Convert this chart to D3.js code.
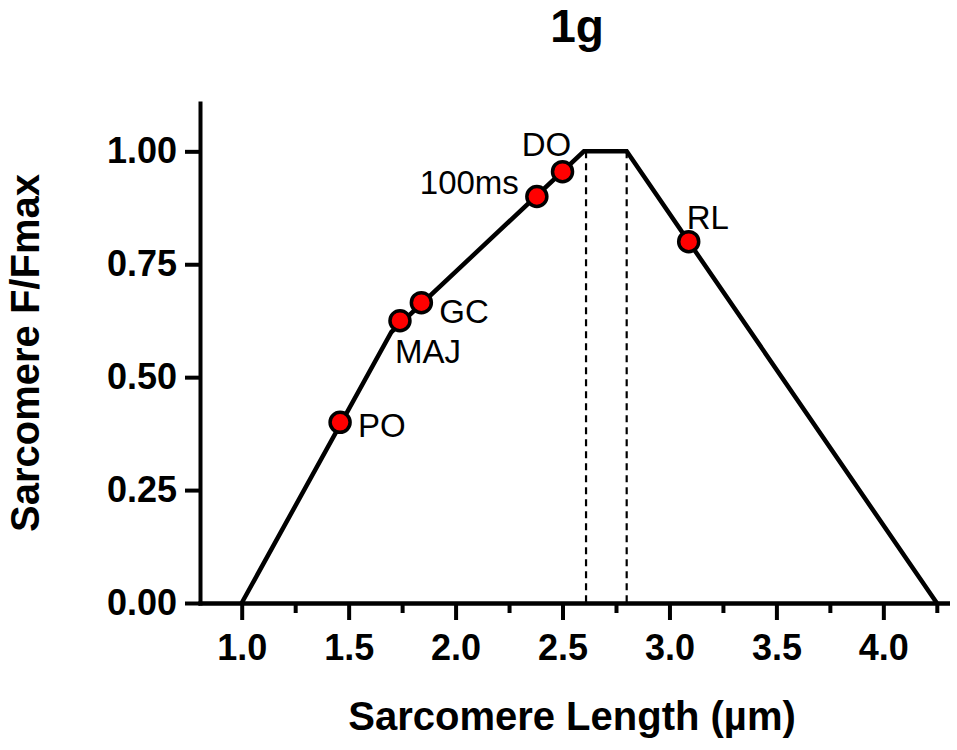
<!DOCTYPE html>
<html>
<head>
<meta charset="UTF-8">
<script src="https://d3js.org/d3.v7.min.js"></script>
<style>
    body { margin: 0; background: #fff; }
    svg text { font-family: "Liberation Sans", Arial, sans-serif; fill: #000; }
    .axis .domain, .axis line { stroke: #000; stroke-width: 4px; }
    .axis text { font-size: 36px; font-weight: bold; }
</style>
</head>
<body>
<svg id="chart"></svg>
<script>
// force-length curve vertices
const curveX = [1.0, 1.7, 2.6, 2.8, 4.25];
const curveY = [0, 0.6, 1.0, 1.0, 0];
// plateau edges (dashed)
const plateauX = [2.61, 2.8];
// marked points
const pointNames = ["PO", "MAJ", "GC", "100ms", "DO", "RL"];
const pointX = [1.46, 1.74, 1.84, 2.38, 2.50, 3.09];
const pointY = [0.40, 0.625, 0.665, 0.90, 0.955, 0.80];
// ticks
const xTicks = [1.0, 1.5, 2.0, 2.5, 3.0, 3.5, 4.0];
const xMinorTicks = [1.25, 1.75, 2.25, 2.75, 3.25, 3.75, 4.25];
const yTicks = [0, 0.25, 0.5, 0.75, 1.0];

let width = 957, height = 750;

// label placement relative to each dot (dx, dy, anchor)
const labelPos = {
    "PO": [18, 15, "start"],
    "MAJ": [-5, 42, "start"],
    "GC": [18, 20, "start"],
    "100ms": [-18, -2, "end"],
    "DO": [-16, -16, "middle"],
    "RL": [-2, -13, "start"]
};

let svg = d3.select("#chart")
    .attr("width", width)
    .attr("height", height)

let x = d3.scaleLinear().domain([0.805, 4.3]).range([200, 947.5])
let y = d3.scaleLinear().domain([0, 1.107]).range([603, 103])

// axes
svg.append("g")
    .attr("class", "axis")
    .attr("transform", "translate(0,603)")
    .call(d3.axisBottom(x).tickValues(xMinorTicks).tickSize(10).tickSizeOuter(0).tickFormat(""))

svg.append("g")
    .attr("class", "axis")
    .attr("transform", "translate(0,603)")
    .call(d3.axisBottom(x).tickValues(xTicks).tickSize(17).tickSizeOuter(0)
        .tickPadding(14).tickFormat(d3.format(".1f")))

svg.append("g")
    .attr("class", "axis")
    .attr("transform", "translate(200,0)")
    .call(d3.axisLeft(y).tickValues(yTicks).tickSize(15).tickSizeOuter(0)
        .tickPadding(8).tickFormat(d3.format(".2f")))

svg.selectAll(".axis .domain").attr("stroke-linecap", "square")

// dashed plateau markers
svg.selectAll(".plateau")
    .data(plateauX)
    .enter()
    .append("line")
    .attr("x1", d => x(d))
    .attr("x2", d => x(d))
    .attr("y1", y(1))
    .attr("y2", y(0))
    .style("stroke", "#000")
    .style("stroke-width", 2.2)
    .style("stroke-dasharray", "7,5")

// curve
let line = d3.line()
    .x((d, i) => x(curveX[i]))
    .y(d => y(d))

svg.append("path")
    .datum(curveY)
    .attr("d", line)
    .style("fill", "none")
    .style("stroke", "#000")
    .style("stroke-width", 4.5)
    .style("stroke-linejoin", "miter")

// points
svg.selectAll(".pt")
    .data(pointNames)
    .enter()
    .append("circle")
    .attr("cx", (d, i) => x(pointX[i]))
    .attr("cy", (d, i) => y(pointY[i]))
    .attr("r", 10)
    .style("fill", "#ff0000")
    .style("stroke", "#000")
    .style("stroke-width", 3.5)

svg.selectAll(".lbl")
    .data(pointNames)
    .enter()
    .append("text")
    .attr("x", (d, i) => x(pointX[i]) + labelPos[d][0])
    .attr("y", (d, i) => y(pointY[i]) + labelPos[d][1])
    .style("text-anchor", d => labelPos[d][2])
    .style("font-size", "33px")
    .text(d => d)

// titles
svg.append("text")
    .attr("x", 577)
    .attr("y", 42)
    .text("1g")
    .style("font-size", "46px")
    .style("font-weight", "bold")
    .style("text-anchor", "middle")

svg.append("text")
    .attr("x", 572)
    .attr("y", 730)
    .text("Sarcomere Length (µm)")
    .style("font-size", "40px")
    .style("font-weight", "bold")
    .style("text-anchor", "middle")

svg.append("text")
    .attr("transform", "translate(39,353) rotate(-90)")
    .text("Sarcomere F/Fmax")
    .style("font-size", "40px")
    .style("font-weight", "bold")
    .style("text-anchor", "middle")
</script>
</body>
</html>
